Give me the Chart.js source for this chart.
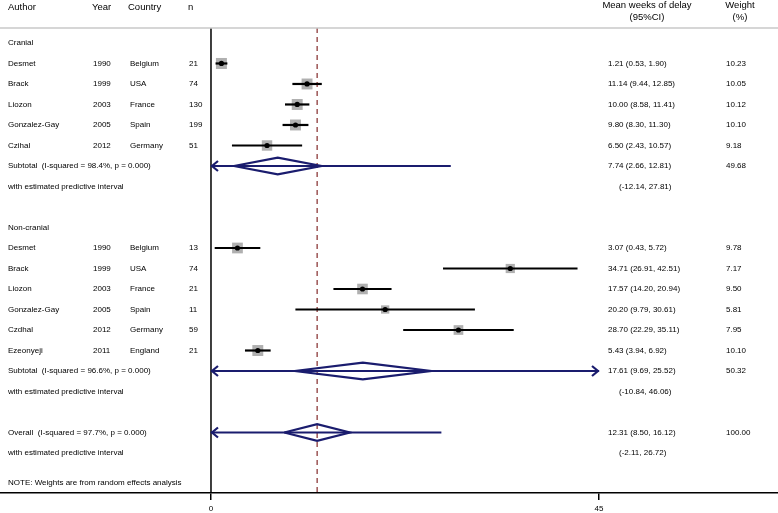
<!DOCTYPE html>
<html><head><meta charset="utf-8">
<script src="https://cdn.jsdelivr.net/npm/chart.js@4"></script>
<style>html,body{margin:0;padding:0;background:#fff}#wrap{width:778px;height:513px;position:relative}</style>
</head><body><div id="wrap"><canvas id="c"></canvas></div>
<script>
// ---- data ----
const studyAuthor  = ['Desmet','Brack','Liozon','Gonzalez-Gay','Czihal','Desmet','Brack','Liozon','Gonzalez-Gay','Czdhal','Ezeonyeji'];
const studyYear    = [1990,1999,2003,2005,2012,1990,1999,2003,2005,2012,2011];
const studyCountry = ['Belgium','USA','France','Spain','Germany','Belgium','USA','France','Spain','Germany','England'];
const studyN       = [21,74,130,199,51,13,74,21,11,59,21];
const studyMean    = [1.21,11.14,10.00,9.80,6.50,3.07,34.71,17.57,20.20,28.70,5.43];
const studyLo      = [0.53,9.44,8.58,8.30,2.43,0.43,26.91,14.20,9.79,22.29,3.94];
const studyHi      = [1.90,12.85,11.41,11.30,10.57,5.72,42.51,20.94,30.61,35.11,6.92];
const studyWeight  = [10.23,10.05,10.12,10.10,9.18,9.78,7.17,9.50,5.81,7.95,10.10];
const studyRow     = [1,2,3,4,5,10,11,12,13,14,15];

const groupLabel = ['Cranial','Non-cranial'];
const groupRow   = [0,9];

const pooledLabel  = ['Subtotal  (I-squared = 98.4%, p = 0.000)','Subtotal  (I-squared = 96.6%, p = 0.000)','Overall  (I-squared = 97.7%, p = 0.000)'];
const pooledMean   = [7.74,17.61,12.31];
const pooledLo     = [2.66,9.69,8.50];
const pooledHi     = [12.81,25.52,16.12];
const pooledPredLo = [-12.14,-10.84,-2.11];
const pooledPredHi = [27.81,46.06,26.72];
const pooledWeight = [49.68,50.32,100.00];
const pooledRow    = [6,16,19];
const predLabel    = 'with estimated predictive interval';

const noteText = 'NOTE: Weights are from random effects analysis';
const noteRow  = 21.45;
const xTicks   = [0,45];
const headerCols = ['Author','Year','Country','n'];
const headerEst  = ['Mean weeks of delay','(95%CI)'];
const headerWt   = ['Weight','(%)'];

// ---- styles ----
const FONT = '"Liberation Sans", Arial, sans-serif';
const NAVY = '#1a1c6e';
const MAROON = '#832a2a';
const BOXGRAY = '#b0b0b0';
const X_MIN = -24.47, X_MAX = 65.76, Y_MIN = -0.73, Y_MAX = 21.95;
const CLIP_LO = 0, CLIP_HI = 45;
const DIAMOND_H = 0.41;
const BOX_K = 3.44; // box side (px) per sqrt(weight)

const datasets = [];
datasets.push({data:[{x:0,y:Y_MIN},{x:0,y:Y_MAX}], showLine:true, borderColor:'#000', borderWidth:1.5, pointRadius:0, order:5});
datasets.push({data:[{x:pooledMean[2],y:Y_MIN},{x:pooledMean[2],y:Y_MAX}], showLine:true, borderColor:MAROON, borderWidth:1.2, borderDash:[5,4], pointRadius:0, order:5});
studyRow.forEach((r,i)=>{
  datasets.push({data:[{x:studyLo[i],y:r},{x:studyHi[i],y:r}], showLine:true, borderColor:'#000', borderWidth:2.2, pointRadius:0, order:1});
});
datasets.push({data:studyRow.map((r,i)=>({x:studyMean[i],y:r})), pointStyle:'rect', backgroundColor:BOXGRAY, borderWidth:0,
  pointRadius: ctx => BOX_K*Math.sqrt(studyWeight[ctx.dataIndex])/Math.SQRT2, order:2});
datasets.push({data:studyRow.map((r,i)=>({x:studyMean[i],y:r})), pointStyle:'circle', backgroundColor:'#000', borderWidth:0, pointRadius:2.6, order:0});
pooledRow.forEach((r,i)=>{
  datasets.push({data:[{x:pooledLo[i],y:r},{x:pooledMean[i],y:r-DIAMOND_H},{x:pooledHi[i],y:r},{x:pooledMean[i],y:r+DIAMOND_H},{x:pooledLo[i],y:r}],
    showLine:true, borderColor:NAVY, borderWidth:2.2, pointRadius:0, tension:0, order:1});
  datasets.push({data:[{x:Math.max(pooledPredLo[i],CLIP_LO),y:r},{x:Math.min(pooledPredHi[i],CLIP_HI),y:r}],
    showLine:true, borderColor:NAVY, borderWidth:2.2, pointRadius:0, order:1});
});

const f2 = v => v.toFixed(2);

const textPlugin = {
  id:'forestText',
  afterDraw(chart){
    const ctx = chart.ctx, xs = chart.scales.x, ys = chart.scales.y, ca = chart.chartArea;
    ctx.save();
    // separator
    ctx.strokeStyle = '#c8c8c8'; ctx.lineWidth = 1.5;
    ctx.beginPath(); ctx.moveTo(0, ca.top); ctx.lineTo(chart.width, ca.top); ctx.stroke();
    // arrows for clipped predictive intervals
    ctx.strokeStyle = NAVY; ctx.lineWidth = 2.2;
    pooledRow.forEach((r,i)=>{
      const y = ys.getPixelForValue(r);
      if (pooledPredLo[i] < CLIP_LO){
        const x = xs.getPixelForValue(CLIP_LO);
        ctx.beginPath(); ctx.moveTo(x+7,y-5); ctx.lineTo(x+1,y); ctx.lineTo(x+7,y+5); ctx.stroke();
      }
      if (pooledPredHi[i] > CLIP_HI){
        const x = xs.getPixelForValue(CLIP_HI);
        ctx.beginPath(); ctx.moveTo(x-7,y-5); ctx.lineTo(x-1,y); ctx.lineTo(x-7,y+5); ctx.stroke();
      }
    });
    ctx.fillStyle = '#000'; ctx.textBaseline = 'middle';
    // headers
    ctx.font = '9.5px ' + FONT; ctx.textAlign = 'left';
    const hx = [8,92,128,188];
    headerCols.forEach((t,i)=>ctx.fillText(t,hx[i],7));
    ctx.textAlign = 'center';
    ctx.fillText(headerEst[0],647,5); ctx.fillText(headerEst[1],647,17);
    ctx.fillText(headerWt[0],740,5); ctx.fillText(headerWt[1],740,17);
    // body
    ctx.font = '8px ' + FONT; ctx.textAlign = 'left';
    groupRow.forEach((r,i)=>ctx.fillText(groupLabel[i],8,ys.getPixelForValue(r)));
    studyRow.forEach((r,i)=>{
      const y = ys.getPixelForValue(r);
      ctx.fillText(studyAuthor[i],8,y);
      ctx.fillText(String(studyYear[i]),93,y);
      ctx.fillText(studyCountry[i],130,y);
      ctx.fillText(String(studyN[i]),189,y);
      ctx.fillText(f2(studyMean[i])+' ('+f2(studyLo[i])+', '+f2(studyHi[i])+')',608,y);
      ctx.fillText(f2(studyWeight[i]),726,y);
    });
    pooledRow.forEach((r,i)=>{
      const y = ys.getPixelForValue(r), y2 = ys.getPixelForValue(r+1);
      ctx.fillText(pooledLabel[i],8,y);
      ctx.fillText(predLabel,8,y2);
      ctx.fillText(f2(pooledMean[i])+' ('+f2(pooledLo[i])+', '+f2(pooledHi[i])+')',608,y);
      ctx.fillText('('+f2(pooledPredLo[i])+', '+f2(pooledPredHi[i])+')',619,y2);
      ctx.fillText(f2(pooledWeight[i]),726,y);
    });
    ctx.fillText(noteText,8,ys.getPixelForValue(noteRow));
    ctx.restore();
  }
};

new Chart(document.getElementById('c'), {
  type:'scatter',
  data:{datasets},
  options:{
    responsive:true, maintainAspectRatio:false, animation:false,
    layout:{autoPadding:false, padding:{top:28,left:0,right:0,bottom:0}},
    plugins:{legend:{display:false}, tooltip:{enabled:false}},
    scales:{
      x:{type:'linear', min:X_MIN, max:X_MAX, position:'bottom',
        afterBuildTicks: ax => { ax.ticks = xTicks.map(v=>({value:v})); },
        afterFit: ax => { ax.height = 20; },
        border:{display:true,color:'#000',width:1.5},
        grid:{display:true, drawOnChartArea:false, drawTicks:true, tickLength:7, color:'#000', lineWidth:1.5},
        ticks:{font:{size:8,family:FONT}, color:'#000', padding:4, maxRotation:0}},
      y:{type:'linear', min:Y_MIN, max:Y_MAX, reverse:true, display:false}
    }
  },
  plugins:[textPlugin]
});
</script></body></html>
